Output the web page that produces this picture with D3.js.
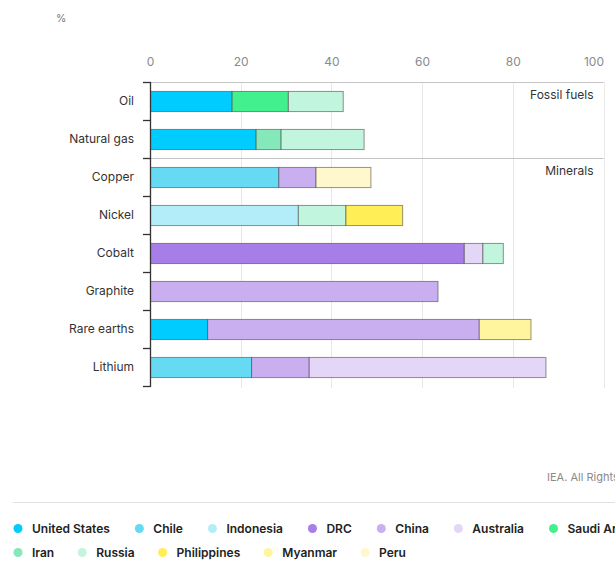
<!DOCTYPE html>
<html>
<head>
<meta charset="utf-8">
<script src="https://cdn.jsdelivr.net/npm/d3@7"></script>
<style>
  html, body { margin: 0; padding: 0; background: #fff; overflow: hidden; }
  svg { display: block; font-family: Inter, "Noto Sans", sans-serif; }
</style>
</head>
<body>
<svg id="chart" width="615" height="561"></svg>
<script>
// Categories (top to bottom)
const categories = ["Oil", "Natural gas", "Copper", "Nickel", "Cobalt", "Graphite", "Rare earths", "Lithium"];

// Countries in stacking / legend order
const countries = ["United States", "Chile", "Indonesia", "DRC", "China", "Australia",
                   "Saudi Arabia", "Iran", "Russia", "Philippines", "Myanmar", "Peru"];
const colors = ["#00ccff", "#66d9f3", "#b3edf9", "#a77de8", "#c9aef0", "#e3d6f6",
                "#42f08e", "#84e8ba", "#c2f5dd", "#ffee55", "#fff59e", "#fff8cc"];

// Share of production by country (%), one value per category
const unitedStates = [18.0, 23.3, 0, 0, 0, 0, 12.6, 0];
const chile        = [0, 0, 28.3, 0, 0, 0, 0, 22.3];
const indonesia    = [0, 0, 0, 32.6, 0, 0, 0, 0];
const drc          = [0, 0, 0, 0, 69.2, 0, 0, 0];
const china        = [0, 0, 8.2, 0, 0, 63.4, 59.9, 12.7];
const australia    = [0, 0, 0, 0, 4.1, 0, 0, 52.2];
const saudiArabia  = [12.4, 0, 0, 0, 0, 0, 0, 0];
const iran         = [0, 5.5, 0, 0, 0, 0, 0, 0];
const russia       = [12.1, 18.3, 0, 10.5, 4.5, 0, 0, 0];
const philippines  = [0, 0, 0, 12.5, 0, 0, 0, 0];
const myanmar      = [0, 0, 0, 0, 0, 0, 11.4, 0];
const peru         = [0, 0, 12.1, 0, 0, 0, 0, 0];

const seriesValues = [unitedStates, chile, indonesia, drc, china, australia,
                      saudiArabia, iran, russia, philippines, myanmar, peru];

const xTicks = [0, 20, 40, 60, 80, 100];
const groupLabels = [{ text: "Fossil fuels", first: "Oil" }, { text: "Minerals", first: "Copper" }];

// Build a row table for d3.stack
const table = categories.map((c, i) => {
  const row = { category: c };
  countries.forEach((k, j) => { row[k] = seriesValues[j][i]; });
  return row;
});
const stacked = d3.stack().keys(countries)(table);

const svg = d3.select("#chart");
const plotLeft = 150, plotRight = 603.5, plotTop = 82, plotBottom = 386;

const x = d3.scaleLinear().domain([0, 100]).range([plotLeft, plotRight]);
const y = d3.scaleBand().domain(categories).range([plotTop, plotBottom])
  .paddingInner(0.47).paddingOuter(0.235);
const color = d3.scaleOrdinal().domain(countries).range(colors);

// Unit label
svg.append("text").attr("x", 56).attr("y", 22).attr("font-size", 10.5)
  .attr("fill", "#777").text("%");

// Vertical gridlines
svg.append("g").selectAll("line").data(xTicks.slice(1)).join("line")
  .attr("x1", d => Math.round(x(d)) + 0.5).attr("x2", d => Math.round(x(d)) + 0.5)
  .attr("y1", plotTop).attr("y2", plotBottom + 2)
  .attr("stroke", "#e8e8e8").attr("stroke-width", 1);

// Top tick labels
const xAxis = svg.append("g").attr("transform", `translate(0,${plotTop - 16})`)
  .call(d3.axisTop(x).tickValues(xTicks).tickSize(0).tickPadding(0));
xAxis.select(".domain").remove();
xAxis.selectAll("text").attr("font-size", 12).attr("fill", "#8a8a8a")
  .attr("font-family", "Inter, sans-serif")
  .attr("text-anchor", d => d === 100 ? "end" : "middle");

// Group separators (top edge and between fossil fuels / minerals)
const sepY = groupLabels.map(g => y(g.first) - y.step() * y.paddingOuter());
svg.append("g").selectAll("line").data(sepY).join("line")
  .attr("x1", plotLeft).attr("x2", plotRight)
  .attr("y1", d => Math.round(d) + 0.5).attr("y2", d => Math.round(d) + 0.5)
  .attr("stroke", "#c4c4c4").attr("stroke-width", 1);

svg.append("g").selectAll("text").data(groupLabels).join("text")
  .attr("x", plotRight - 10)
  .attr("y", (d, i) => sepY[i] + 17)
  .attr("text-anchor", "end").attr("font-size", 12).attr("fill", "#333")
  .text(d => d.text);

// Bars
svg.append("g").selectAll("g").data(stacked).join("g")
  .attr("fill", d => color(d.key))
  .selectAll("rect").data(d => d.filter(s => s[1] - s[0] > 0)).join("rect")
  .attr("x", d => x(d[0]) + 0.5)
  .attr("y", d => y(d.data.category) + 0.5)
  .attr("width", d => x(d[1]) - x(d[0]))
  .attr("height", y.bandwidth())
  .attr("stroke", "rgba(60,60,60,0.55)").attr("stroke-width", 1);

// Left category axis with ticks at band boundaries
const yAxisG = svg.append("g");
yAxisG.append("line").attr("x1", plotLeft + 0.5).attr("x2", plotLeft + 0.5)
  .attr("y1", plotTop).attr("y2", plotBottom + 1)
  .attr("stroke", "#333").attr("stroke-width", 1.3);
const boundaries = d3.range(categories.length + 1).map(i => plotTop + i * y.step());
yAxisG.selectAll("line.tick").data(boundaries).join("line").attr("class", "tick")
  .attr("x1", plotLeft - 7).attr("x2", plotLeft + 0.5)
  .attr("y1", d => Math.round(d) + 0.5).attr("y2", d => Math.round(d) + 0.5)
  .attr("stroke", "#333").attr("stroke-width", 1.3);
yAxisG.selectAll("text").data(categories).join("text")
  .attr("x", plotLeft - 16).attr("y", d => y(d) + y.bandwidth() / 2)
  .attr("dy", "0.35em").attr("text-anchor", "end")
  .attr("font-size", 12).attr("fill", "#333").text(d => d);

// Source note
svg.append("text").attr("x", 547).attr("y", 481).attr("font-size", 11)
  .attr("fill", "#8a8a8a").text("IEA. All Rights Reserved");

// Legend divider
svg.append("line").attr("x1", 13).attr("x2", 615).attr("y1", 502.5).attr("y2", 502.5)
  .attr("stroke", "#e2e2e2");

// Legend: flowing items, seven in the first row
const legend = svg.append("g");
const rowsY = [528.5, 552.5];
const rowGap = [29.5, 28];
let cx = 18, row = 0;
countries.forEach((k, i) => {
  if (i === 7) { row = 1; cx = 18; }
  const g = legend.append("g").attr("transform", `translate(${cx},${rowsY[row]})`);
  g.append("circle").attr("r", 4.5).attr("fill", color(k));
  const t = g.append("text").attr("x", 14).attr("dy", "0.35em")
    .attr("font-size", 12).attr("font-weight", 600).attr("fill", "#222").text(k);
  cx += 14 + t.node().getComputedTextLength() + rowGap[row];
});
</script>
</body>
</html>
